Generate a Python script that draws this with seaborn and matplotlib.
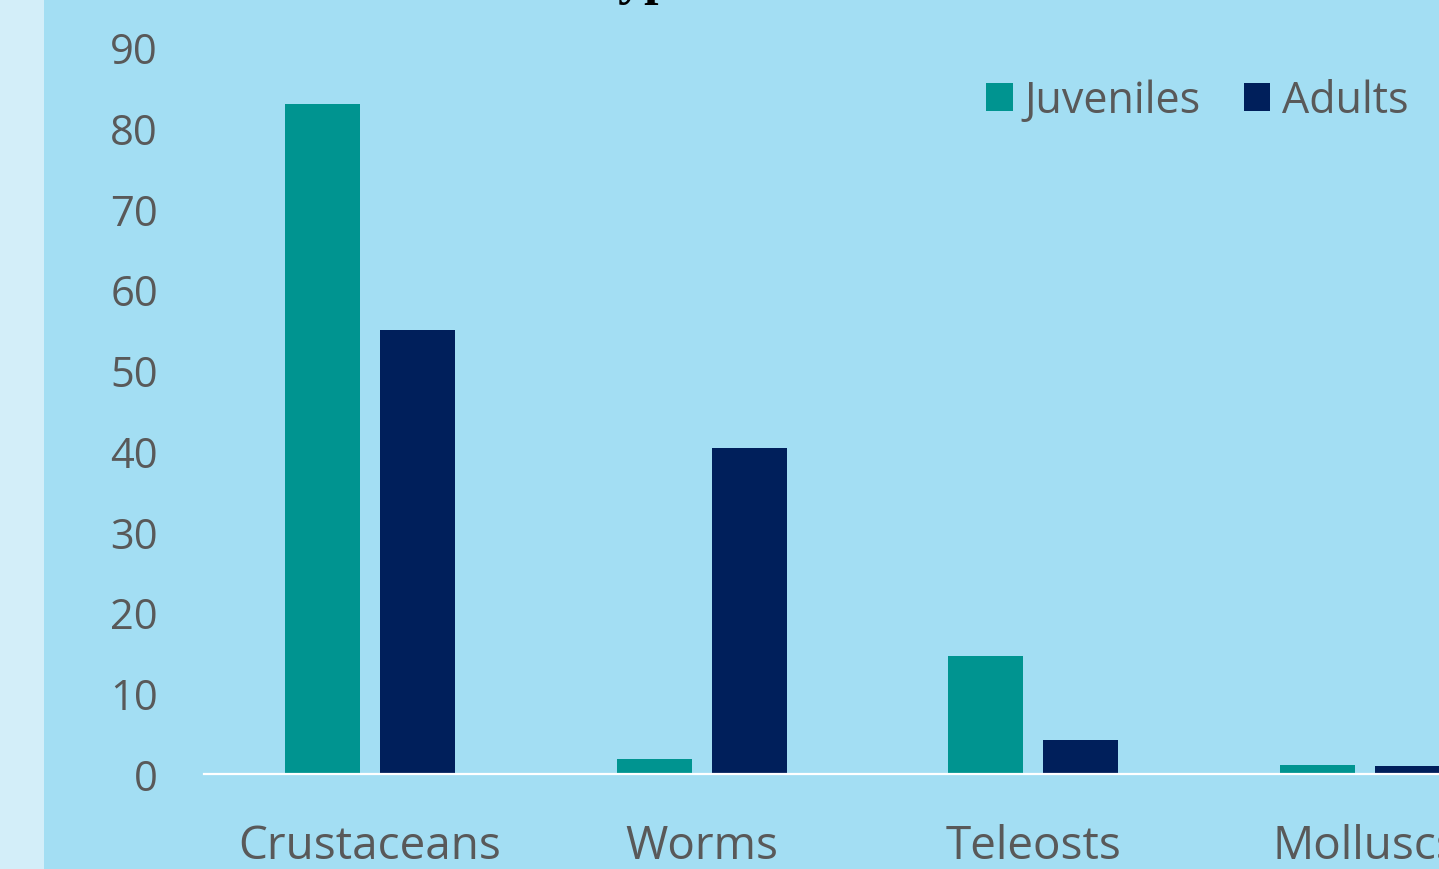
import matplotlib
matplotlib.use("Agg")
import matplotlib.pyplot as plt
import seaborn as sns
import pandas as pd
from matplotlib.patches import Rectangle, Patch

categories = ["Crustaceans", "Worms", "Teleosts", "Molluscs"]
juveniles = [83.0, 1.9, 14.6, 1.1]
adults = [55.0, 40.4, 4.2, 1.0]
series = ["Juveniles", "Adults"]
yticks = [0, 10, 20, 30, 40, 50, 60, 70, 80, 90]

df = pd.DataFrame({
    "category": categories * 2,
    "group": [series[0]] * 4 + [series[1]] * 4,
    "value": juveniles + adults,
})

BG = "#A3DEF3"
STRIP = "#D3EEF9"
TEAL = "#009490"
NAVY = "#001F5B"
GRAY = "#595959"

sns.set_theme(style="white")
plt.rcParams["font.family"] = ["Open Sans", "DejaVu Sans"]

W, H = 1439, 870
fig = plt.figure(figsize=(W / 100, H / 100), dpi=100)
fig.patch.set_facecolor(STRIP)
fig.patches.append(Rectangle((44 / W, 0), 1, 1, transform=fig.transFigure,
                             facecolor=BG, edgecolor="none", zorder=-10))

# axes: x from -0.5 (204px) to 3.5 (1531px); y 0 at 774px, 90 at 47px
left = 204 / W
right = 1531 / W
bottom = (H - 775) / H
top = (H - 48) / H
ax = fig.add_axes([left, bottom, right - left, top - bottom])
ax.set_zorder(1)
ax.patch.set_alpha(0)

sns.barplot(data=df, x="category", y="value", hue="group", order=categories,
            hue_order=series, palette=[TEAL, NAVY], width=0.572, gap=0.21,
            saturation=1, ax=ax, legend=False, edgecolor="none")

ax.set_xlim(-0.5, 3.5)
ax.set_ylim(0, 90)
ax.set_yticks(yticks)
ax.set_yticklabels([str(t) for t in yticks])
ax.set_xlabel("")
ax.set_ylabel("")
for s in ["top", "right", "left"]:
    ax.spines[s].set_visible(False)
ax.spines["bottom"].set_color("white")
ax.spines["bottom"].set_linewidth(1.6)
ax.tick_params(axis="y", length=0, pad=46 * 0.72, labelsize=30, labelcolor=GRAY)
ax.tick_params(axis="x", length=0, pad=49 * 0.72, labelsize=33, labelcolor=GRAY)

handles = [Patch(facecolor=TEAL, edgecolor="none"), Patch(facecolor=NAVY, edgecolor="none")]
leg = fig.legend(handles, series, loc="center right",
                 bbox_to_anchor=(1409 / W, 1 - 102 / H), ncol=2, frameon=False,
                 fontsize=31, handlelength=0.62, handleheight=0.62,
                 handletextpad=0.28, columnspacing=1.0, borderaxespad=0, borderpad=0)
for t in leg.get_texts():
    t.set_color(GRAY)

fig.text(475 / W, 1 + 6 / H, "Food types", ha="left", va="baseline",
         fontsize=52 * 0.72, fontweight="bold", color="black",
         family=["Liberation Serif", "DejaVu Serif"])

fig.savefig("out.png", dpi=100, facecolor=fig.get_facecolor())
